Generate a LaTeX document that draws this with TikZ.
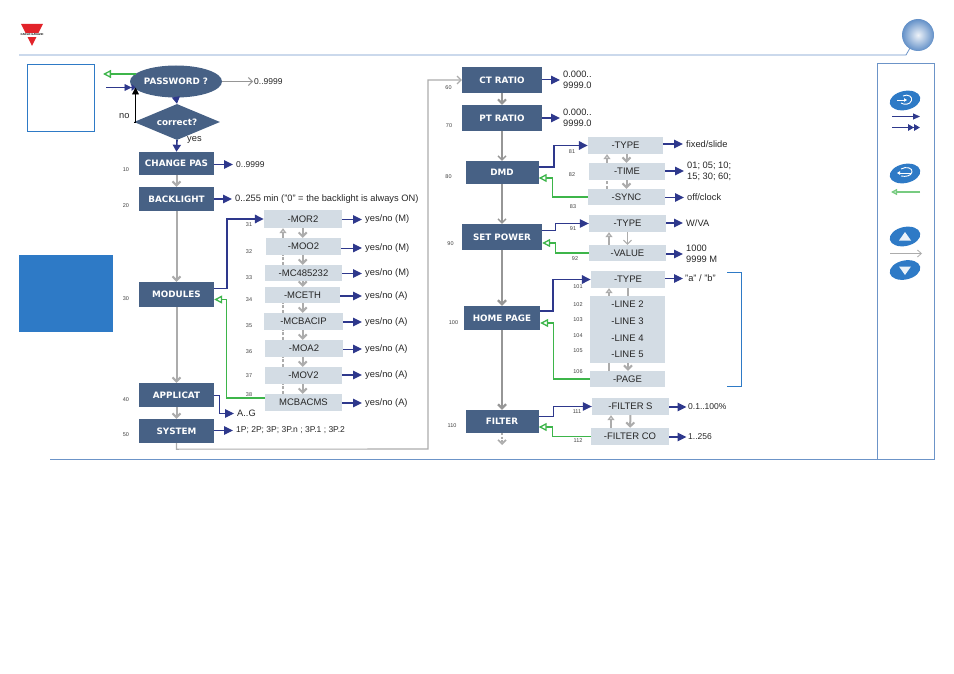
\documentclass[tikz,border=0pt]{standalone}
\usepackage{fontspec}
\setmainfont{Liberation Sans}
\newfontfamily\titlefont{DejaVu Sans}
\usepackage{tikz}
\usetikzlibrary{arrows.meta, positioning, calc, shapes.geometric}
\definecolor{slateblue}{RGB}{71,97,133}
\definecolor{palebox}{RGB}{211,220,228}
\definecolor{navyflow}{RGB}{46,56,140}
\definecolor{greenflow}{RGB}{61,181,74}
\definecolor{greyflow}{RGB}{172,172,172}
\definecolor{darkgrey}{RGB}{150,150,150}
\definecolor{ruleblue}{RGB}{108,148,200}
\definecolor{panelblue}{RGB}{46,122,198}
\definecolor{logored}{RGB}{226,35,42}
\tikzset{
  titlebox/.style={fill=slateblue, text=white, inner sep=0pt, font=\titlefont\fontsize{8.8}{10}\selectfont\bfseries},
  subbox/.style={fill=palebox, text=black!85, inner sep=0pt, font=\fontsize{9.5}{11}\selectfont},
  val/.style={anchor=west, inner ysep=1pt, inner xsep=3pt, align=left, text=black!85, font=\fontsize{9.3}{11}\selectfont},
  valnum/.style={val, font=\fontsize{8.5}{11}\selectfont},
  num/.style={inner sep=0pt, text=black!75, font=\fontsize{5.5}{6}\selectfont},
  keypad/.style={ellipse, fill=panelblue, rotate=12, minimum width=31pt, minimum height=19pt, inner sep=0pt},
  enter/.style={navyflow, line width=1.6pt, -{Triangle[length=9pt,width=8.5pt]}},
  enterthin/.style={navyflow, line width=1pt, -{Triangle[length=9pt,width=8.5pt]}},
  back/.style={greenflow, line width=1.3pt, -{Triangle[open,length=8pt,width=8pt,fill=white]}},
  nextgrey/.style={greyflow, line width=2pt, -{Straight Barb[length=4pt,width=8pt]}},
  nextdark/.style={darkgrey, line width=1.4pt, -{Straight Barb[length=4pt,width=8pt]}},
  upgrey/.style={greyflow, line width=1.6pt, -{Triangle[open,length=5pt,width=7pt,fill=white]}},
  dashgrey/.style={greyflow, line width=1.8pt, dash pattern=on 3pt off 1.5pt},
}
\begin{document}
\begin{tikzpicture}[x=1pt, y=-1pt]
  \useasboundingbox (0,0) rectangle (954,674);
  % page furniture
  \fill[logored] (21,24) -- (43,24) -- (32,46) -- cycle;
  \fill[white] (20.5,33.2) rectangle (43.5,36.6);
  \node[inner sep=0pt, font=\fontsize{2.8}{3.5}\selectfont\bfseries] (logotext) at (32,34.9) {CARLO GAVAZZI};
  \draw[ruleblue, line width=0.8pt] (19,55) -- (906,55) -- (910,48);
  \draw[ruleblue, line width=0.8pt] (50,459.5) -- (877,459.5);
  \draw[ruleblue, line width=0.8pt] (877.5,63) rectangle (934,459.5);
  \shade[inner color=white!88!ruleblue, outer color=ruleblue!85!panelblue] (918,35) circle (16);
  \draw[panelblue, line width=0.9pt] (27.5,64.5) rectangle (94.5,131);
  \fill[panelblue] (19,255) rectangle (113,332);

  % legend
  \node[keypad] (enterkey) at (905,100.5) {};
  \draw[white, line width=0.9pt] (903,96) .. controls (908,93.5) and (913,97) .. (911.5,100.5) .. controls (910,105) and (904,105) .. (901,103);
  \draw[white, line width=0.9pt, -{Triangle[length=3pt,width=3.5pt]}] (897,100) -- (907,100);
  \coordinate (la) at (892,116.5);
  \coordinate (lb) at (920,116.5);
  \draw[navyflow, line width=0.8pt, -{Triangle[length=7pt,width=6pt]}] (la) -- (lb);
  \coordinate (lc) at (892,127.5);
  \coordinate (ld) at (920,127.5);
  \draw[navyflow, line width=1.5pt, -{Triangle[length=6pt,width=6.5pt]Triangle[length=6pt,width=6.5pt]}] (lc) -- (ld);
  \node[keypad] (exitkey) at (905,173.5) {};
  \draw[white, line width=0.9pt] (901,169) .. controls (906,166) and (913,168) .. (912,172) .. controls (911,176) and (906,177) .. (901,176);
  \draw[white, line width=0.9pt, -{Triangle[length=3pt,width=3.5pt]}] (911,173) -- (897,173);
  \coordinate (le) at (920,192);
  \coordinate (lf) at (891,192);
  \draw[greenflow!70, line width=1.3pt, -{Triangle[open,length=6pt,width=6pt,fill=white]}] (le) -- (lf);
  \node[keypad] (upkey) at (905,236.5) {};
  \fill[white!90!panelblue] (905,232) -- (911,240.5) -- (899,240.5) -- cycle;
  \node[keypad] (downkey) at (905,270) {};
  \fill[white!90!panelblue] (905,275) -- (911,266.5) -- (899,266.5) -- cycle;
  \coordinate (lg) at (890,253.5);
  \coordinate (lh) at (922,253.5);
  \draw[greyflow, line width=0.8pt, -{Straight Barb[length=4pt,width=7pt]}] (lg) -- (lh);

  % first column
  \node[ellipse, titlebox, minimum width=92pt, minimum height=32pt] (password) at (176,81.5) {PASSWORD ?};
  \node[diamond, titlebox, aspect=2.4, minimum width=86pt, minimum height=36pt] (correct) at (177,122) {correct?};
  \node[titlebox, minimum width=75pt, minimum height=23pt] (changepas) at (176.5,163.5) {CHANGE PAS};
  \node[titlebox, minimum width=75pt, minimum height=24pt] (backlight) at (176.5,199) {BACKLIGHT};
  \node[titlebox, minimum width=75pt, minimum height=25pt] (modules) at (176.5,294.5) {MODULES};
  \node[titlebox, minimum width=75pt, minimum height=24pt] (applicat) at (176.5,395) {APPLICAT};
  \node[titlebox, minimum width=75pt, minimum height=24pt] (system) at (176.5,431) {SYSTEM};

  \node[valnum, inner xsep=1pt] (passval) at (253,81.5) {0..9999};
  \node[valnum] (changeval) at (233,164.5) {0..9999};
  \node[val] (backval) at (232,199) {0..255 min ("0" = the backlight is always ON)};
  \node[val] (appval) at (234,413.5) {A..G};
  \node[valnum] (sysval) at (233,430.5) {1P; 2P; 3P; 3P.n ; 3P.1 ; 3P.2};
  \node[val] (no) at (116,116) {no};
  \node[val] (yes) at (184,140) {yes};

  \coordinate (passin) at (106,87.5);
  \coordinate (passtip) at (135.5,87.5);
  \coordinate (passout) at (103,74);
  \draw[back] ([xshift=-40pt,yshift=7.5pt]password.center) -- (passout);
  \draw[navyflow, line width=0.9pt, -{Triangle[length=7pt,width=7pt]Triangle[length=4pt,width=7pt]}] (passin) -- (passtip);
  \draw[black, line width=0.9pt, -{Triangle[length=7pt,width=7pt]}] (correct.west) -| (passtip);
  \draw[darkgrey, line width=1pt, -{Straight Barb[length=4pt,width=8pt]}] (password.east) -- (passval.west);
  \draw[enterthin, -{Triangle[length=7pt,width=8pt]}] (password.south) -- (correct.north);
  \draw[enter, -{Triangle[length=7pt,width=8pt]}] (correct.south) -- (changepas.north);
  \draw[enter] (changepas.east |- changeval.west) -- (changeval.west);
  \draw[enter] (backlight.east) -- (backval.west);
  \draw[nextgrey] (changepas) -- (backlight);
  \draw[nextgrey] (backlight) -- (modules);
  \draw[nextgrey] (modules) -- (applicat);
  \draw[nextgrey] (applicat) -- (system);
  \draw[enterthin] ([yshift=12pt]applicat.south east) -- ++(5,0) |- (appval.west);
  \draw[enter, line width=1.1pt] (system.east |- sysval.west) -- (sysval.west);

  % modules
  \coordinate (moddown) at (302.7,0);
  \coordinate (modup) at (283,0);
  \node[subbox, minimum width=78pt, minimum height=18pt] (mor) at (303,219) {-MOR2};
  \node[subbox, minimum width=75pt, minimum height=17pt] (moo) at (303.5,246.5) {-MOO2};
  \node[subbox, minimum width=77pt, minimum height=16pt] (mcrs) at (303.5,273) {-MC485232};
  \node[subbox, minimum width=75pt, minimum height=16pt] (mceth) at (302.5,295) {-MCETH};
  \node[subbox, minimum width=79pt, minimum height=17pt] (mcbacip) at (303.5,321.5) {-MCBACIP};
  \node[subbox, minimum width=78pt, minimum height=17pt] (moa) at (304,348.5) {-MOA2};
  \node[subbox, minimum width=77pt, minimum height=17pt] (mov) at (303.5,375.5) {-MOV2};
  \node[subbox, minimum width=77pt, minimum height=17pt] (mcbacms) at (303.5,402.5) {MCBACMS};

  \node[val] (morval) at (362,219.5) {yes/no (M)};
  \node[val] (mooval) at (362,248) {yes/no (M)};
  \node[val] (mcrsval) at (362,273.5) {yes/no (M)};
  \node[val] (mcethval) at (362,296) {yes/no (A)};
  \node[val] (mcbacipval) at (362,322) {yes/no (A)};
  \node[val] (moaval) at (362,349) {yes/no (A)};
  \node[val] (movval) at (362,375) {yes/no (A)};
  \node[val] (mcbacmsval) at (362,403) {yes/no (A)};

  \draw[enter] ([yshift=6pt]modules.east) -- ++(12.5,0) |- (mor.west);
  \draw[back] (mcbacms.west) ++(0,-4.5) -- ++(-38.5,0) |- ([yshift=-5pt]modules.east);
  \draw[enter] (mor.east |- morval.west) -- (morval.west);
  \draw[enterthin] (moo.east |- mooval.west) -- (mooval.west);
  \draw[enter] (mcrs.east |- mcrsval.west) -- (mcrsval.west);
  \draw[enter] (mceth.east |- mcethval.west) -- (mcethval.west);
  \draw[enter] (mcbacip.east |- mcbacipval.west) -- (mcbacipval.west);
  \draw[enterthin] (moa.east |- moaval.west) -- (moaval.west);
  \draw[enter] (mov.east |- movval.west) -- (movval.west);
  \draw[enter] (mcbacms.east |- mcbacmsval.west) -- (mcbacmsval.west);
  % going down the list
  \draw[nextgrey] (mor.south -| moddown) -- (moo.north -| moddown);
  \draw[nextgrey] (moo.south -| moddown) -- (mcrs.north -| moddown);
  \draw[nextgrey] (mcrs.south -| moddown) -- (mceth.north -| moddown);
  \draw[nextgrey] (mceth.south -| moddown) -- (mcbacip.north -| moddown);
  \draw[nextgrey] (mcbacip.south -| moddown) -- (moa.north -| moddown);
  \draw[nextgrey] (moa.south -| moddown) -- (mov.north -| moddown);
  \draw[nextgrey] (mov.south -| moddown) -- (mcbacms.north -| moddown);
  % back up the list
  \draw[upgrey] (moo.north -| modup) -- (mor.south -| modup);
  \draw[dashgrey] (mcrs.north -| modup) -- (moo.south -| modup);
  \draw[dashgrey] (mcbacip.north -| modup) -- (mceth.south -| modup);
  \draw[dashgrey] (moa.north -| modup) -- (mcbacip.south -| modup);
  \draw[dashgrey] (mov.north -| modup) -- (moa.south -| modup);
  \draw[dashgrey] (mcbacms.north -| modup) -- (mov.south -| modup);

  % second column
  \node[titlebox, minimum width=80pt, minimum height=26pt] (ctratio) at (502,80) {CT RATIO};
  \node[titlebox, minimum width=80pt, minimum height=26pt] (ptratio) at (502,118) {PT RATIO};
  \node[titlebox, minimum width=73pt, minimum height=23pt] (dmd) at (502,172.5) {DMD};
  \node[titlebox, minimum width=80pt, minimum height=26pt] (setpower) at (502,237) {SET POWER};
  \node[titlebox, minimum width=76pt, minimum height=24pt] (homepage) at (502,318) {HOME PAGE};
  \node[titlebox, minimum width=73pt, minimum height=23pt] (filter) at (502,421.5) {FILTER};
  \coordinate (filterout) at (502,445);

  \draw[greyflow, line width=1.1pt, -{Straight Barb[length=4pt,width=8pt]}] (system.south) -- ++(0,6) -- (428,449) |- (ctratio.west);
  \draw[nextdark, line width=2pt] (ctratio) -- (ptratio);
  \draw[nextdark] (ptratio) -- (dmd);
  \draw[nextdark] (dmd) -- (setpower);
  \draw[nextdark, line width=2.2pt] (setpower) -- (homepage);
  \draw[nextdark, line width=2.2pt] (homepage) -- (filter);
  \draw[greyflow, line width=1.6pt, dash pattern=on 2pt off 1.5pt, -{Straight Barb[length=4pt,width=8pt]}] (filter) -- (filterout);

  \node[val] (ctval) at (560,80) {0.000..\\9999.0};
  \node[val] (ptval) at (560,118) {0.000..\\9999.0};
  \draw[enterthin] (ctratio) -- (ctval.west);
  \draw[enter] (ptratio) -- (ptval.west);

  % demand
  \node[subbox, minimum width=75pt, minimum height=17pt] (dtype) at (625.5,145.5) {-TYPE};
  \node[subbox, minimum width=76pt, minimum height=17pt] (dtime) at (627,171.5) {-TIME};
  \node[subbox, minimum width=77pt, minimum height=16pt] (dsync) at (626.5,197) {-SYNC};
  \coordinate (dmddown) at (626.5,0);
  \coordinate (dmdup) at (607,0);
  \node[val] (dtypeval) at (683,144) {fixed/slide};
  \node[val] (dtimeval) at (684,171) {01; 05; 10;\\15; 30; 60;};
  \node[val] (dsyncval) at (684,197.5) {off/clock};
  \draw[enter] ([yshift=5.5pt]dmd.east) -- ++(15,0) |- (dtype.west);
  \draw[back] (dsync.west) -- ++(-35,0) |- ([yshift=-5.5pt]dmd.east);
  \draw[enter] (dtype.east |- dtypeval.west) -- (dtypeval.west);
  \draw[enter] (dtime.east |- dtimeval.west) -- (dtimeval.west);
  \draw[enter] (dsync.east |- dsyncval.west) -- (dsyncval.west);
  \draw[nextgrey] (dtype.south -| dmddown) -- (dtime.north -| dmddown);
  \draw[nextgrey] (dtime.south -| dmddown) -- (dsync.north -| dmddown);
  \draw[upgrey] (dtime.north -| dmdup) -- (dtype.south -| dmdup);
  \draw[dashgrey, line width=2.2pt] (dsync.north -| dmdup) -- (dtime.south -| dmdup);

  % power
  \node[subbox, minimum width=77pt, minimum height=17pt] (ptype) at (627.5,223.5) {-TYPE};
  \node[subbox, minimum width=77pt, minimum height=16pt] (pvalue) at (627.5,253) {-VALUE};
  \coordinate (powup) at (609,0);
  \node[val] (ptypeval) at (683,223) {W/VA};
  \node[val] (pvalueval) at (683,254) {1000\\9999 M};
  \draw[enterthin] ([yshift=6pt]setpower.east) -- ++(13.5,0) |- (ptype.west);
  \draw[back] (pvalue.west) -- ++(-33.5,0) |- ([yshift=-6pt]setpower.east);
  \draw[enter] (ptype.east |- ptypeval.west) -- (ptypeval.west);
  \draw[enter] (pvalue.east |- pvalueval.west) -- (pvalueval.west);
  \draw[nextgrey, line width=1pt] (ptype) -- (pvalue);
  \draw[upgrey] (pvalue.north -| powup) -- (ptype.south -| powup);

  % home page
  \node[subbox, minimum width=74pt, minimum height=17pt] (htype) at (628,279.5) {-TYPE};
  \node[subbox, minimum width=75pt, minimum height=67pt, align=center, font=\fontsize{9.5}{16.7}\selectfont] (hlines) at (627.5,329.5) {-LINE 2\\-LINE 3\\-LINE 4\\-LINE 5};
  \node[subbox, minimum width=75pt, minimum height=16pt] (hpage) at (627.5,379) {-PAGE};
  \coordinate (homedown) at (628,0);
  \coordinate (homeup) at (609,0);
  \node[val, inner xsep=2pt] (htypeval) at (683,278.5) {"a" / "b"};
  \draw[enter] ([yshift=7pt]homepage.east) -- ++(13,0) |- (htype.west);
  \draw[back] (hpage.west) -- ++(-36.5,0) |- ([yshift=-5pt]homepage.east);
  \draw[enterthin] (htype.east |- htypeval.west) -- (htypeval.west);
  \draw[greyflow, line width=1.6pt] (hlines.north -| homedown) -- (htype.south -| homedown);
  \draw[upgrey] (hlines.north -| homeup) -- (htype.south -| homeup);
  \draw[greyflow, line width=2.6pt] (hpage.north -| homeup) -- (hlines.south -| homeup);
  \draw[nextgrey] (hlines.south -| homedown) -- (hpage.north -| homedown);
  \draw[panelblue, line width=0.9pt] (727,272.5) -- (741,272.5) -- (741,386.5) -- (727,386.5);

  % filter
  \node[subbox, minimum width=77pt, minimum height=17pt] (ffilter) at (630.5,406.5) {-FILTER S};
  \node[subbox, minimum width=78pt, minimum height=17pt] (fcoef) at (630,436.5) {-FILTER CO};
  \coordinate (filtup) at (611,0);
  \node[valnum, inner xsep=1.5pt] (ffilterval) at (686.5,407) {0.1..100\%};
  \node[valnum, inner xsep=1.5pt] (fcoefval) at (686.5,437) {1..256};
  \draw[enterthin] ([yshift=5.5pt]filter.east) -- ++(15,0) |- (ffilter.west);
  \draw[back] (fcoef.west) -- ++(-38,0) |- ([yshift=-5.5pt]filter.east);
  \draw[enter] (ffilter.east |- ffilterval.west) -- (ffilterval.west);
  \draw[enter] (fcoef.east |- fcoefval.west) -- (fcoefval.west);
  \draw[nextgrey] (ffilter) -- (fcoef);
  \draw[upgrey] (fcoef.north -| filtup) -- (ffilter.south -| filtup);

  % menu numbers
  \node[num] (n10) at (126,169.5) {10};
  \node[num] (n20) at (126,206) {20};
  \node[num] (n30) at (126,299) {30};
  \node[num] (n40) at (126,400) {40};
  \node[num] (n50) at (126,435) {50};
  \node[num] (n31) at (249,225) {31};
  \node[num] (n32) at (249,252) {32};
  \node[num] (n33) at (249,277.5) {33};
  \node[num] (n34) at (249,299.5) {34};
  \node[num] (n35) at (249,325.5) {35};
  \node[num] (n36) at (249,352) {36};
  \node[num] (n37) at (249,376) {37};
  \node[num] (n38) at (249,394.5) {38};
  \node[num] (n60) at (448.5,87.5) {60};
  \node[num] (n70) at (449,126) {70};
  \node[num] (n80) at (448.5,177) {80};
  \node[num] (n90) at (450.5,244) {90};
  \node[num] (n81) at (572,152) {81};
  \node[num] (n82) at (572,175) {82};
  \node[num] (n83) at (573,207) {83};
  \node[num] (n91) at (573,229) {91};
  \node[num] (n92) at (575,259) {92};
  \node[num] (n100) at (453.5,323) {100};
  \node[num] (n110) at (452,425.5) {110};
  \node[num] (n101) at (578,287) {101};
  \node[num] (n102) at (578,304.5) {102};
  \node[num] (n103) at (578,320) {103};
  \node[num] (n104) at (578,336) {104};
  \node[num] (n105) at (578,351) {105};
  \node[num] (n106) at (578,371.5) {106};
  \node[num] (n111) at (577,412) {111};
  \node[num] (n112) at (578,441) {112};
\end{tikzpicture}
\end{document}
